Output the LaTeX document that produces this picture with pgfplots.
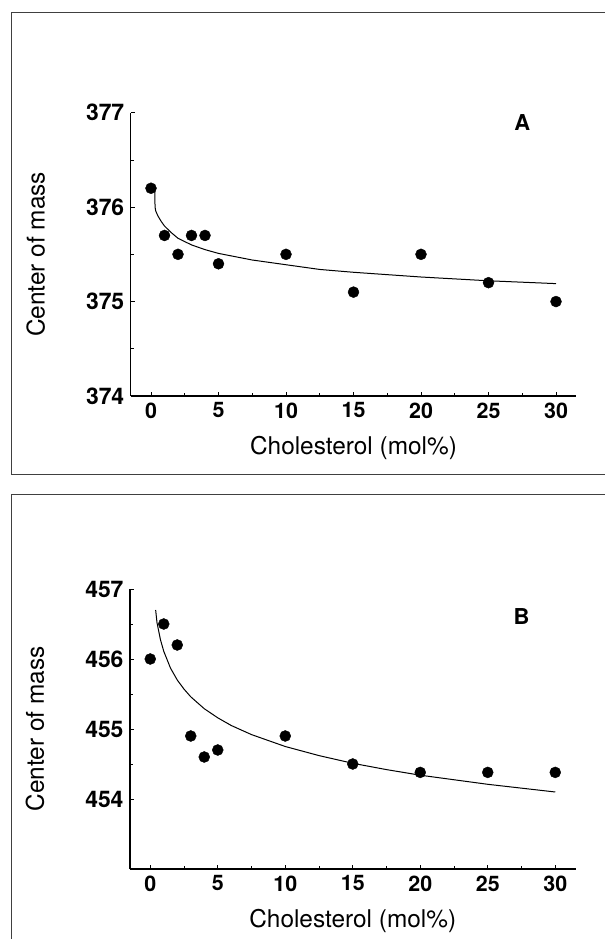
\documentclass[border=0pt]{standalone}
\usepackage{fontspec}
\setmainfont{TeX Gyre Heros}
\usepackage{pgfplots}
\pgfplotsset{compat=1.18}

% common look of both panels
\pgfplotsset{
  panel/.style={
    scale only axis,
    width=445.5bp,
    xmin=-1.5, xmax=31.5,
    axis x line*=bottom,
    axis y line*=left,
    axis line style={line width=1.4bp, -},
    xtick={0,5,...,30},
    minor x tick num=1,
    minor y tick num=1,
    tick align=inside,
    major tick length=4bp,
    minor tick length=3bp,
    tick style={line width=0.8bp, black},
    /pgf/number format/assume math mode=true,
    /pgf/number format/1000 sep={},
    x tick label style={font=\fontsize{21.5}{21.5}\selectfont\bfseries, yshift=-3bp},
    y tick label style={font=\fontsize{23}{23}\selectfont\bfseries, xshift=-3bp},
    xlabel={Cholesterol (mol\%)},
    ylabel={Center of mass},
    x label style={font=\fontsize{24.5}{24.5}\selectfont, at={([yshift=-52bp]axis description cs:0.5,0)}, anchor=center},
    y label style={font=\fontsize{24.5}{24.5}\selectfont, at={([xshift=-95bp]axis description cs:0,0.5)}, anchor=center},
    clip=false,
  },
  dots/.style={only marks, mark=*, mark size=5.5bp, mark options={fill=black, draw=black}},
  fit/.style={no marks, black, line width=1bp, line join=round},
}

\begin{document}
\begin{tikzpicture}
\useasboundingbox (0,0) rectangle (605bp,939bp);

% panel frames
\draw[black!75, line width=0.9bp] (605bp,927bp) -- (11bp,927bp) -- (11bp,465bp) -- (605bp,465bp);
\draw[black!75, line width=0.9bp] (605bp,445bp) -- (11bp,445bp) -- (11bp,0bp);

% panel A
\begin{axis}[panel,
  at={(130.75bp,543bp)}, anchor=south west,
  height=283.3bp,
  ymin=374, ymax=377,
  ytick={374,375,376,377},
]
\addplot[dots] coordinates {
  (0,376.2) (1,375.7) (2,375.5) (3,375.7) (4,375.7) (5,375.4)
  (10,375.5) (15,375.1) (20,375.5) (25,375.2) (30,375.0)
};
\addplot[fit] coordinates {
  (0.28,376.17) (0.3,376.0) (0.35,375.96) (0.5,375.91) (0.75,375.85)
  (1,375.80) (1.5,375.73) (2,375.67) (3,375.60) (4,375.55) (5,375.51)
  (7.5,375.44) (10,375.39) (12.5,375.34) (15,375.31) (20,375.26)
  (25,375.22) (30,375.19)
};
\node[font=\fontsize{22}{22}\selectfont\bfseries] at (axis cs:27.5,376.9) {A};
\end{axis}

% panel B
\begin{axis}[panel,
  at={(130bp,70bp)}, anchor=south west,
  height=280bp,
  ymin=453, ymax=457,
  ytick={454,455,456,457},
]
\addplot[dots] coordinates {
  (0,456.0) (1,456.5) (2,456.2) (3,454.9) (4,454.6) (5,454.7)
  (10,454.9) (15,454.5) (20,454.38) (25,454.38) (30,454.38)
};
\addplot[fit] coordinates {
  (0.4,456.70) (0.5,456.52) (0.75,456.28) (1,456.11) (1.5,455.87)
  (2,455.70) (2.5,455.57) (3,455.46) (4,455.29) (5,455.16) (6,455.05)
  (7.5,454.92) (10,454.75) (12.5,454.62) (15,454.51) (17.5,454.42)
  (20,454.34) (25,454.21) (30,454.10)
};
\node[font=\fontsize{22}{22}\selectfont\bfseries] at (axis cs:27.5,456.6) {B};
\end{axis}
\end{tikzpicture}
\end{document}
